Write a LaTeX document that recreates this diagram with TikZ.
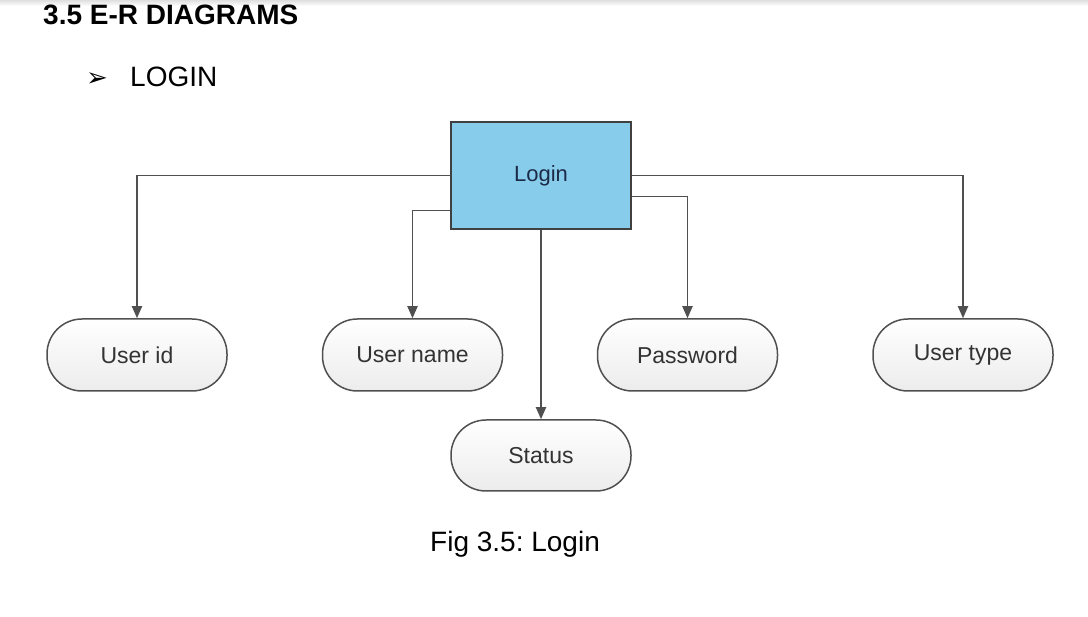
\documentclass[tikz,border=0pt]{standalone}
\usepackage{fontspec}
\setmainfont{Liberation Sans}
\newfontfamily\symfont{DejaVu Sans}
\usetikzlibrary{arrows.meta}
\definecolor{loginblue}{HTML}{87CDEB}
\definecolor{edgegray}{HTML}{505050}
\definecolor{navytext}{HTML}{1C2A48}
\frenchspacing
\begin{document}
\begin{tikzpicture}[x=1pt,y=-1pt,
  attr/.style={rectangle, rounded corners=35pt, draw=edgegray, line width=1.5pt,
    top color=white, bottom color=gray!15, minimum width=180pt, minimum height=72pt,
    inner sep=0pt, text=black!80, font=\fontsize{23}{27}\selectfont},
  entity/.style={rectangle, draw=edgegray!80!black, line width=1.5pt, fill=loginblue,
    minimum width=180pt, minimum height=107pt, inner sep=0pt, text=navytext,
    font=\fontsize{22}{26}\selectfont},
  conn/.style={draw=edgegray, line width=1.8pt, -{Triangle[width=10pt,length=12pt]}},
  plain/.style={inner sep=0pt, text=black}
]
\useasboundingbox (0,0) rectangle (1088,617);
\fill[white] (0,0) rectangle (1088,617);
\shade[top color=gray!25, bottom color=white] (0,0) rectangle (1088,6);

\node[plain, anchor=base west, font=\fontsize{28}{34}\selectfont\bfseries] (head) at (43,25) {3.5 E-R DIAGRAMS};
\node[plain, anchor=base west, font=\fontsize{26}{30}\symfont] (bullet) at (86,87) {➢};
\node[plain, anchor=base west, font=\fontsize{28}{34}\selectfont] (sub) at (130,87) {LOGIN};

\node[entity] (login) at (541,175.5) {Login};
\node[attr] (uid) at (137,355) {User id};
\node[attr] (uname) at (412.5,355) {User name};
\node[attr] (pwd) at (687.5,355) {Password};
\node[attr] (utype) at (963,355) {User type};
\node[attr, minimum height=71pt] (status) at (541,455.5) {Status};

\draw[conn] (login.west) -| (uid.north);
\draw[conn] ([yshift=-35pt]login.west) -| (uname.north);
\draw[conn] (login.east) -| (utype.north);
\draw[conn] ([yshift=-21pt]login.east) -| (pwd.north);
\draw[conn] (login.south) -- (status.north);

\node[plain, anchor=base west, font=\fontsize{28}{34}\selectfont] (cap) at (430,552) {Fig 3.5: Login};
\end{tikzpicture}
\end{document}
